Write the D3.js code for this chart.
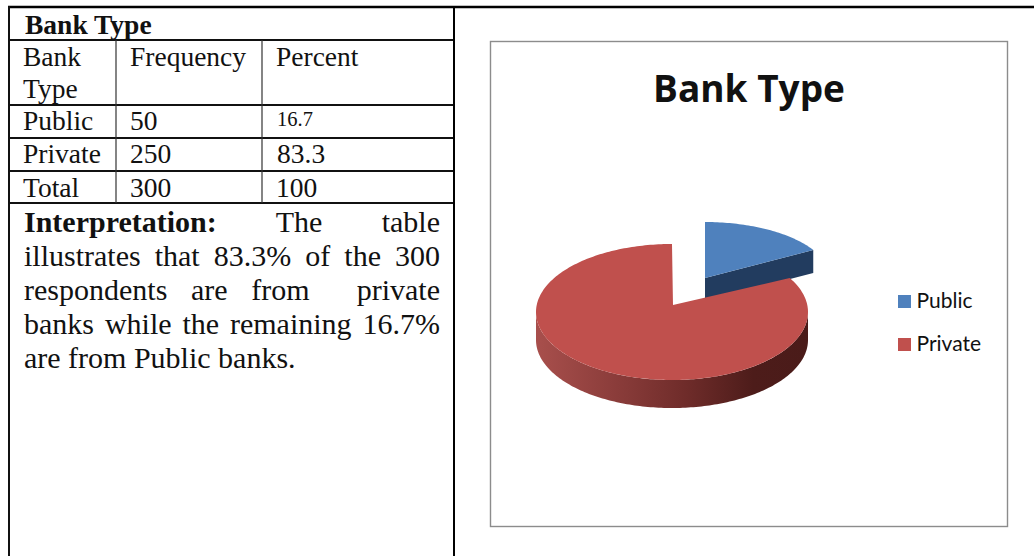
<!DOCTYPE html>
<html>
<head>
<meta charset="utf-8">
<script src="https://cdn.jsdelivr.net/npm/d3@7"></script>
<style>
html,body{margin:0;padding:0;background:#fff;}
svg{display:block;}
</style>
</head>
<body>
<svg id="page" width="1034" height="556"></svg>
<script>
// Survey figures
const categories = ["Public", "Private"];
const frequencies = [50, 250];
const percents = ["16.7", "83.3"];
const totalRow = ["Total", "300", "100"];
const tableTitle = "Bank Type";
const tableHead = [["Bank", "Type"], ["Frequency"], ["Percent"]];
const interpretationLines = [
  "Interpretation: The table",
  "illustrates that 83.3% of the 300",
  "respondents are from \u00a0private",
  "banks while the remaining 16.7%",
  "are from Public banks."
];
const sliceColors = ["#4f81bd", "#c0504d"];

const svg = d3.select("#page");
const serif = "'Liberation Serif','Times New Roman',serif";
const legendFont = "Lato, 'Open Sans', sans-serif";
const titleFont = "'Open Sans', Lato, sans-serif";

/* ---------- table rules ---------- */
const rule = (x1, y1, x2, y2, w = 1.5, c = "#111") =>
  svg.append("line").attr("x1", x1).attr("y1", y1).attr("x2", x2).attr("y2", y2)
     .attr("stroke", c).attr("stroke-width", w);

const colX = [9, 116, 262, 454];
const rowY = [7, 40, 105, 138, 171, 203];
rule(8, 7, 1034, 7, 2.4, "#000");
rowY.slice(1).forEach(y => rule(9, y, 454, y, 2, "#111"));
rule(9, 6, 9, 556, 2, "#111");
rule(454, 6, 454, 556, 2, "#000");
rule(colX[1], 40, colX[1], 203, 1.2, "#333");
rule(colX[2], 40, colX[2], 203, 1.2, "#333");

/* ---------- table text ---------- */
const cell = (s, x, y, size = 27.5, weight = "normal") =>
  svg.append("text").attr("x", x).attr("y", y).text(s)
     .attr("font-family", serif).attr("font-size", size)
     .attr("font-weight", weight).attr("fill", "#111");

cell(tableTitle, 25, 33.5, 27.5, "bold");
tableHead[0].forEach((s, i) => cell(s, 23, 66 + i * 32));
cell(tableHead[1][0], 130, 66);
cell(tableHead[2][0], 276, 66);

const bodyY = [130, 163, 197];
categories.forEach((c, i) => {
  cell(c, 23, bodyY[i]);
  cell(String(frequencies[i]), 130, bodyY[i]);
  cell(percents[i], 277, bodyY[i] - (i === 0 ? 4 : 0), i === 0 ? 20.5 : 27.5);
});
totalRow.forEach((s, i) => cell(s, [23, 130, 276][i], bodyY[2]));

/* ---------- interpretation paragraph, justified line by line ---------- */
const paraLeft = 24, paraRight = 440, paraWidth = paraRight - paraLeft;
interpretationLines.forEach((line, i) => {
  const y = 232 + i * 34;
  const t = svg.append("text").attr("x", paraLeft).attr("y", y)
    .attr("font-family", serif).attr("font-size", 30).attr("fill", "#111");
  if (i === 0) {
    const [lead, ...rest] = line.split(" ");
    t.append("tspan").attr("font-weight", "bold").text(lead);
    t.append("tspan").text(" " + rest.join(" "));
  } else {
    t.text(line);
  }
  if (i < interpretationLines.length - 1) {
    const gaps = line.split(/[ \u00a0]/).length - 1;
    const natural = t.node().getComputedTextLength();
    t.attr("word-spacing", (paraWidth - natural) / gaps);
  }
});

/* ---------- chart frame and title ---------- */
svg.append("rect").attr("x", 490.5).attr("y", 41.5).attr("width", 517).attr("height", 485)
   .attr("fill", "#fff").attr("stroke", "#8c8c8c").attr("stroke-width", 1.4);
svg.append("text").attr("x", 749).attr("y", 102).attr("text-anchor", "middle")
   .attr("font-family", titleFont).attr("font-size", 37).attr("font-weight", 700)
   .attr("fill", "#111").text(tableTitle);

/* ---------- tilted pie ---------- */
const pie = d3.pie().sort(null).startAngle(0).endAngle(2 * Math.PI);
const arcs = pie(frequencies);

// Each slice: apex, and the ellipse its rim follows in the tilted view.
const views = [
  { apex: [705, 278], centre: [705, 278], rx: 125, ry: 56, depth: 23 },
  { apex: [673, 305], centre: [672, 312], rx: 136, ry: 68, depth: 28 }
];
const rimPoint = (v, a, dy = 0) =>
  [v.centre[0] + v.rx * Math.sin(a), v.centre[1] - v.ry * Math.cos(a) + dy];
const rim = (v, a0, a1, dy = 0) => {
  const n = Math.ceil(Math.abs(a1 - a0) / 0.02);
  return d3.range(n + 1).map(i => rimPoint(v, a0 + (a1 - a0) * i / n, dy));
};
const line = d3.line();

const defs = svg.append("defs");
const wallGrad = defs.append("linearGradient").attr("id", "privateWall")
  .attr("gradientUnits", "userSpaceOnUse")
  .attr("x1", 536).attr("x2", 808).attr("y1", 0).attr("y2", 0);
[[0, "#a84f4c"], [0.3, "#8a3c3a"], [0.55, "#6f2c2a"], [0.8, "#4d1c1a"], [1, "#4a1b19"]]
  .forEach(([o, c]) => wallGrad.append("stop").attr("offset", o).attr("stop-color", c));

const pieLayer = svg.append("g").attr("class", "pie");

// Public slice: cut face and top
{
  const v = views[0], a = arcs[0];
  const tip = rimPoint(v, a.endAngle);
  pieLayer.append("path")
    .attr("d", line([v.apex, tip, [tip[0], tip[1] + v.depth], [v.apex[0], v.apex[1] + v.depth]]) + "Z")
    .attr("fill", "#223c5f");
  pieLayer.append("path")
    .attr("d", line([v.apex, ...rim(v, a.startAngle, a.endAngle)]) + "Z")
    .attr("fill", sliceColors[0]);
}

// Private slice: outer wall first, then the top face over it
{
  const v = views[1], a = arcs[1];
  const front = Math.PI / 2, back = 3 * Math.PI / 2;
  pieLayer.append("path")
    .attr("d", line([...rim(v, front, back), ...rim(v, back, front, v.depth)]) + "Z")
    .attr("fill", "url(#privateWall)");
  pieLayer.append("path")
    .attr("d", line([v.apex, ...rim(v, a.startAngle, a.endAngle)]) + "Z")
    .attr("fill", sliceColors[1]);
}

/* ---------- legend ---------- */
const legendY = d3.scalePoint().domain(categories).range([301.5, 344.5]);
const legend = svg.append("g").selectAll("g").data(categories).join("g");
legend.append("rect").attr("x", 898).attr("y", d => legendY(d) - 6.5)
  .attr("width", 13).attr("height", 13)
  .attr("fill", (d, i) => sliceColors[i]);
legend.append("text").attr("x", 916.5).attr("y", d => legendY(d) + 6.5)
  .attr("font-family", legendFont).attr("font-size", 21).attr("fill", "#111").text(d => d);
</script>
</body>
</html>
